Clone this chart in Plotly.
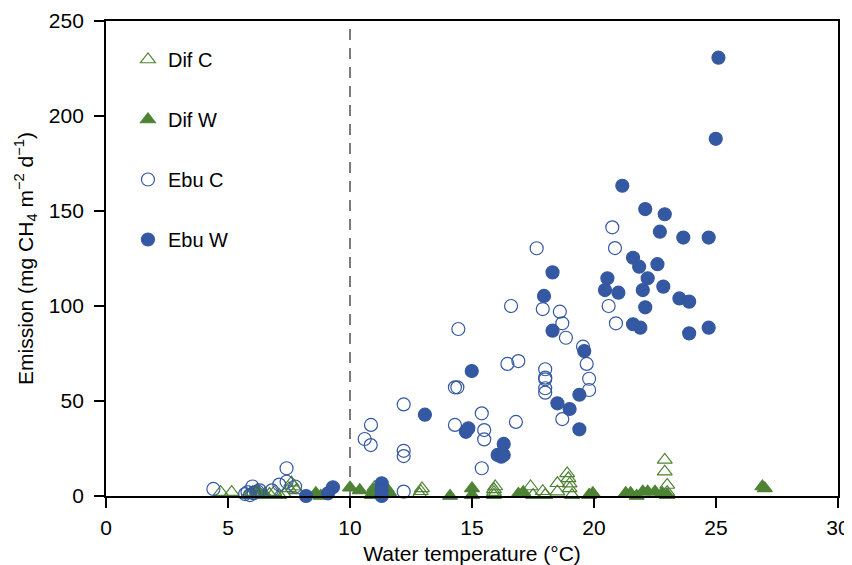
import plotly.graph_objects as go

# ---- Data ----
dif_c_x = [4.7, 5.15, 5.8, 5.9, 6.0, 6.1, 6.2, 6.3, 6.5, 6.7, 6.9, 7.1, 7.3, 7.5, 7.6, 7.7, 7.8,
           10.9, 10.95, 11.0, 12.85, 12.9, 12.95, 15.9, 15.9, 15.9, 15.95,
           17.4, 17.5, 17.9, 18.0, 18.5, 18.5, 18.9, 18.95, 19.0, 19.1, 19.0,
           22.9, 22.9, 23.0, 23.0, 23.0]
dif_c_y = [2, 2, 0.5, 1, 2, 0.5, 3, 1, 0.5, 1, 2, 0.5, 1, 4, 7, 5, 3,
           1, 3, 4.5, 1, 2.5, 4, 0.5, 2, 3.5, 5,
           5, 0.5, 2.5, 0.5, 6.7, 2.3, 11.9, 9.3, 4, 0.5, 6.5,
           19, 12.8, 5.8, 2, 0.5]

dif_w_x = [6.2, 6.5, 8.6, 8.8, 10.0, 10.4, 10.9, 11.0, 11.5, 11.6, 14.1, 15.0, 15.0,
           16.9, 17.1, 19.8, 19.95, 21.3, 21.5, 21.75, 22.0, 22.2, 22.5, 22.8, 23.0,
           26.9, 27.0]
dif_w_y = [3, 1, 1.5, 0, 4.4, 3, 0.5, 3, 4, 2, 0, 4, 0.5,
           1, 2, 0.5, 1.4, 1.4, 1.4, 0, 2.3, 2.3, 2.3, 1.4, 0.5,
           5, 4]

ebu_c_x = [4.4, 5.7, 5.8, 5.9, 6.0, 6.05, 6.2, 6.3, 6.8, 7.1, 7.4, 7.4, 7.75,
           10.6, 10.85, 10.86, 12.2, 12.2, 12.2, 12.2, 14.3, 14.4, 14.44, 14.3,
           15.4, 15.5, 15.5, 15.4, 16.45, 16.6, 16.8, 16.9, 17.65, 17.9,
           18.0, 18.0, 18.0, 18.0, 18.0, 18.6, 18.7, 18.85, 18.7,
           19.55, 19.7, 19.8, 19.8, 20.6, 20.75, 20.86, 20.9]
ebu_c_y = [3.7, 1, 2, 0.5, 5, 1.5, 2.5, 3, 3, 6, 7.5, 14.6, 5,
           30, 26.8, 37.4, 48.2, 23.8, 21, 2.3, 57.2, 57.2, 87.9, 37.4,
           43.5, 34.7, 29.8, 14.6, 69.5, 100, 39, 71, 130.4, 98.4,
           66.7, 62.3, 61.4, 56.7, 54.4, 97, 90.9, 83.3, 40.5,
           78.6, 69.5, 61.7, 55.8, 100, 141.4, 130.5, 90.9]

ebu_w_x = [8.2, 9.1, 9.3, 11.3, 11.3, 11.3, 13.07, 14.75, 14.85, 14.99,
           16.05, 16.2, 16.3, 16.3, 18.3, 18.3, 17.95, 18.5, 19.0, 19.4, 19.4, 19.6,
           20.45, 20.55, 21.0, 21.16, 21.6, 21.85, 21.6, 21.9, 22.0, 22.1, 22.1,
           22.2, 22.6, 22.7, 22.84, 22.9, 23.5, 23.66, 23.9, 23.9, 24.7, 24.7,
           24.99, 25.1]
ebu_w_y = [0, 1.4, 4.6, 6.7, 3.2, 0, 42.8, 33.8, 35.6, 65.8,
           21.6, 20.7, 21.6, 27.4, 87, 117.7, 105.3, 48.8, 45.8, 53.3, 35.1, 76.3,
           108.4, 114.6, 107, 163.3, 125.4, 120.7, 90.4, 88.6, 108.4, 99.3, 151,
           114.6, 122, 139.1, 110.2, 148.3, 104, 136, 102.3, 85.6, 136, 88.6,
           188, 230.7]

threshold_temp = 10
x_ticks = [0, 5, 10, 15, 20, 25, 30]
y_ticks = [0, 50, 100, 150, 200, 250]

GREEN = "#4e8234"
BLUE = "#3558a2"
FONT = "Liberation Sans, Arial, sans-serif"

fig = go.Figure()
series = [
    ("Dif C", dif_c_x, dif_c_y, "triangle-up-open", GREEN, 13),
    ("Dif W", dif_w_x, dif_w_y, "triangle-up", GREEN, 13),
    ("Ebu C", ebu_c_x, ebu_c_y, "circle-open", BLUE, 13),
    ("Ebu W", ebu_w_x, ebu_w_y, "circle", BLUE, 13),
]
for name, xs, ys, sym, col, sz in series:
    fig.add_trace(go.Scatter(
        x=xs, y=ys, mode="markers", name=name, legendgroup=name,
        cliponaxis=False,
        marker=dict(symbol=sym, color=col, size=sz,
                    line=dict(color=col, width=1.2)),
    ))

fig.add_shape(type="line", xref="x", yref="paper",
              x0=threshold_temp, x1=threshold_temp, y0=0, y1=1,
              line=dict(color="#111111", width=1.1, dash="11px,8px"), layer="below")

axis_common = dict(
    showline=True, linecolor="black", linewidth=1.8, mirror=True,
    ticks="outside", ticklen=10, tickwidth=1.5, tickcolor="black",
    showgrid=False, zeroline=False,
    tickfont=dict(family=FONT, size=21, color="black"),
)

# page body has an 8px margin, so the figure is sized to end at the window edge
fig.update_layout(
    width=844, height=557,
    margin=dict(l=98, r=14, t=13, b=69),
    paper_bgcolor="white", plot_bgcolor="white",
    font=dict(family=FONT, size=21, color="black"),
    xaxis=dict(range=[0, 30], tickvals=x_ticks, ticklabelstandoff=2,
               title=dict(text="Water temperature (°C)", standoff=8,
                          font=dict(family=FONT, size=21)),
               automargin=False, **axis_common),
    yaxis=dict(range=[0, 250], tickvals=y_ticks, ticklabelstandoff=6,
               title=dict(text="Emission (mg CH<sub>4</sub> m<sup>−2</sup> d<sup>−1</sup>)",
                          standoff=10, font=dict(family=FONT, size=21)),
               automargin=False, **axis_common),
    legend=dict(x=0.03, y=0.96, xanchor="left", yanchor="top",
                bgcolor="rgba(0,0,0,0)", tracegroupgap=31,
                font=dict(family=FONT, size=20, color="black"),
                itemwidth=30),
    showlegend=True,
)

fig.write_html("out.html")
